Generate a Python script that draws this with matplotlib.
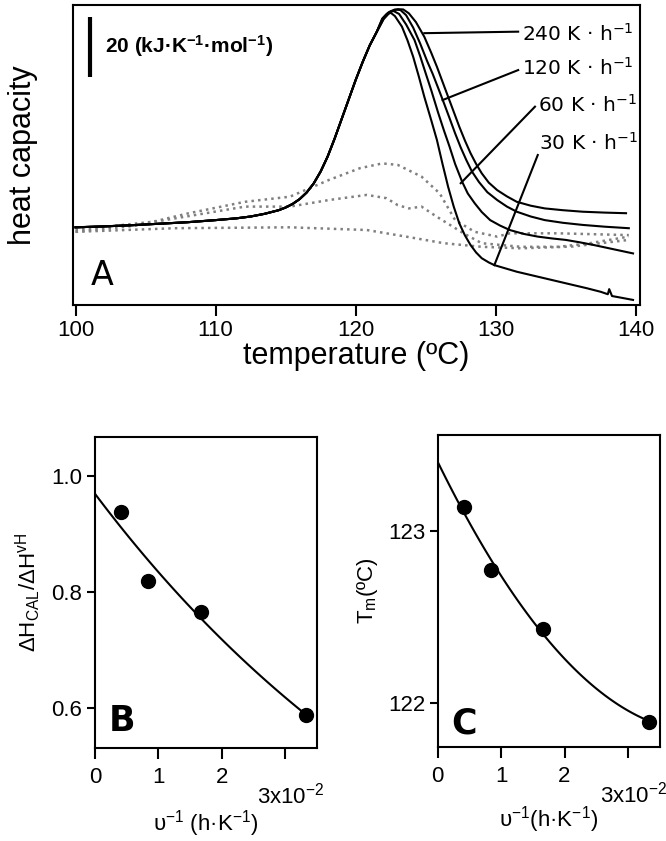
import numpy as np
import matplotlib
matplotlib.use('Agg')
import matplotlib.pyplot as plt

plt.rcParams['font.family'] = ['Liberation Sans', 'DejaVu Sans']
plt.rcParams['mathtext.fontset'] = 'custom'
plt.rcParams['mathtext.rm'] = 'Liberation Sans'
plt.rcParams['mathtext.it'] = 'Liberation Sans'
plt.rcParams['mathtext.bf'] = 'Liberation Sans:bold'

# ---------------------------
# Panel A data (temperature in C, heat capacity in kJ/K/mol, arbitrary offset)
# ---------------------------
rise_T = [100.0, 102.0, 104.0, 106.0, 108.0, 110.0, 111.5, 112.5, 113.5, 114.5, 115.0, 115.5,
          116.0, 116.5, 117.0, 117.5, 118.0, 118.5, 119.0, 119.5, 120.0, 120.5, 121.0, 121.5]
rise_cp = [25.9, 26.2, 26.6, 27.1, 27.6, 28.3, 28.9, 29.5, 30.4, 31.6, 32.5, 33.7,
           35.3, 37.5, 40.5, 44.5, 49.5, 55.5, 62.0, 68.5, 75.0, 81.0, 86.5, 91.0]

t240 = [122.0, 122.5, 123.0, 123.4, 123.8, 124.3, 124.9, 125.4, 125.8, 126.2, 126.6, 127.0, 127.4, 127.8,
        128.2, 128.6, 129.0, 129.5, 130.1, 130.8, 131.5, 132.5, 133.5, 134.8, 136.2, 137.8, 139.3]
cp240 = [95.3, 97.8, 98.6, 98.5, 97.2, 94.3, 89.4, 84.0, 79.4, 74.4, 69.4, 64.4, 59.4, 54.8,
         50.6, 47.0, 43.9, 40.8, 38.3, 36.2, 34.4, 33.1, 32.2, 31.6, 31.1, 30.8, 30.6]

t120 = [122.0, 122.4, 122.8, 123.2, 123.6, 124.1, 124.6, 125.1, 125.5, 125.9, 126.3, 126.7, 127.1, 127.5,
        127.9, 128.3, 128.8, 129.4, 130.1, 130.8, 131.5, 132.5, 133.5, 134.8, 136.2, 137.8, 139.5]
cp120 = [95.5, 97.7, 98.5, 98.3, 96.6, 92.5, 87.2, 81.3, 77.0, 72.2, 67.3, 62.3, 57.2, 52.5,
         48.3, 44.5, 41.0, 37.6, 35.0, 32.8, 31.1, 29.5, 28.3, 27.4, 26.7, 26.1, 25.6]

t60 = [121.9, 122.3, 122.7, 123.1, 123.6, 124.2, 124.6, 125.0, 125.4, 125.9, 126.3, 126.7, 127.1, 127.6, 128.0,
       128.5, 129.0, 129.6, 130.3, 131.0, 132.0, 133.0, 134.0, 135.0, 136.0, 137.0, 138.0, 139.0, 139.8]
cp60 = [95.5, 97.4, 98.0, 97.0, 93.5, 88.3, 83.0, 77.2, 71.5, 63.9, 58.2, 52.8, 47.0, 41.1, 37.2,
        33.9, 31.0, 28.3, 26.5, 25.0, 23.7, 22.8, 22.2, 21.7, 20.9, 20.0, 19.0, 18.0, 17.2]

t30 = [121.9, 122.2, 122.5, 122.8, 123.3, 123.7, 124.1, 124.5, 124.9, 125.4, 125.8, 126.2, 126.6, 127.0, 127.4,
       127.8, 128.2, 128.6, 129.0, 129.5, 129.9, 130.7, 131.5, 132.5, 133.5, 134.5, 135.5, 136.5, 137.5,
       138.0, 138.1, 138.3, 139.0, 139.8]
cp30 = [95.3, 96.9, 97.4, 96.3, 92.8, 88.2, 82.8, 76.3, 69.4, 61.5, 55.0, 47.0, 39.4, 32.8, 27.2,
        23.2, 20.0, 17.5, 15.6, 14.2, 13.3, 12.2, 11.1, 10.0, 8.9, 7.8, 6.7, 5.6, 4.4,
        3.6, 5.3, 3.0, 2.4, 1.7]

# dotted traces
d1_T = [100.0, 104.4, 108.0, 112.1, 115.3, 118.1, 120.3, 121.9, 123.0, 124.7, 126.0, 127.1, 128.5, 130.1, 131.0, 134.5, 139.5]
d1_cp = [24.4, 26.5, 30.5, 34.4, 36.1, 41.7, 45.6, 47.2, 46.7, 42.8, 37.2, 28.3, 24.4, 22.8, 23.9, 23.9, 23.3]
d2_T = [100.0, 106.0, 112.1, 115.3, 118.1, 120.8, 122.2, 123.0, 123.8, 124.7, 125.8, 127.7, 129.0, 131.8, 134.5, 136.7, 139.5]
d2_cp = [25.0, 28.0, 32.8, 32.8, 35.0, 36.7, 35.6, 33.3, 32.2, 32.8, 29.4, 23.9, 20.6, 19.4, 19.4, 20.6, 22.8]
d3_T = [100.0, 107.1, 115.3, 120.8, 123.6, 126.3, 129.0, 131.8, 135.5, 139.5]
d3_cp = [24.4, 25.6, 25.9, 25.0, 22.8, 20.6, 19.4, 18.9, 19.5, 21.7]

rate_labels = ['240 K · h$^{-1}$', '120 K · h$^{-1}$', '60 K · h$^{-1}$', '30 K · h$^{-1}$']

# ---------------------------
# Panels B and C data
# ---------------------------
rates = np.array([240, 120, 60, 30])
inv_rate = 1.0 / rates
h_ratio = np.array([0.938, 0.818, 0.766, 0.588])
tm = np.array([123.14, 122.77, 122.43, 121.89])

fig = plt.figure(figsize=(6.66, 8.41), dpi=100)

# ---------------------------
# A
# ---------------------------
axA = fig.add_axes([0.1092, 0.6373, 0.8518, 0.3568])
for T, cp in [(d1_T, d1_cp), (d2_T, d2_cp), (d3_T, d3_cp)]:
    axA.plot(T, cp, color='#808080', ls=':', lw=1.8)
for T, cp in [(t240, cp240), (t120, cp120), (t60, cp60), (t30, cp30)]:
    axA.plot(rise_T + T, rise_cp + cp, color='black', lw=1.5)

axA.set_xlim(99.8, 140.3)
axA.set_ylim(0, 100)
axA.set_yticks([])
axA.set_xticks([100, 110, 120, 130, 140])
axA.tick_params(axis='x', direction='out', length=8, width=1.5, labelsize=16, pad=3)
for s in axA.spines.values():
    s.set_linewidth(1.5)
axA.set_xlabel('temperature (ºC)', fontsize=22, labelpad=0)
axA.set_ylabel('heat capacity', fontsize=22, labelpad=25)

# leaders and rate labels
lead_start = [(131.6, 91.1), (131.6, 78.3), (132.8, 66.1), (133.0, 50.0)]
lead_end = [(124.9, 90.6), (126.2, 68.3), (127.5, 40.6), (129.9, 13.3)]
lab_pos = [(131.9, 90.5), (131.9, 78.9), (133.0, 66.7), (133.1, 53.9)]
for (x0, y0), (x1, y1), (tx, ty), lab in zip(lead_start, lead_end, lab_pos, rate_labels):
    axA.plot([x0, x1], [y0, y1], color='black', lw=1.5)
    axA.text(tx, ty, lab, fontsize=14.5, family='DejaVu Sans', va='center', ha='left',
             math_fontfamily='dejavusans')

# scale bar
axA.plot([101.05, 101.05], [76, 96], color='black', lw=3, solid_capstyle='butt')
axA.text(102.1, 86.2, r'20 (kJ·K$^{\mathbf{-1}}$·mol$^{\mathbf{-1}}$)', fontsize=15,
         fontweight='bold', va='center')
axA.text(101.1, 10, 'A', fontsize=24, family='DejaVu Sans', va='center', ha='left')

# ---------------------------
# B
# ---------------------------
axB = fig.add_axes([0.1426, 0.1106, 0.3333, 0.3698])
axB.plot(inv_rate, h_ratio, 'o', color='black', ms=10)
pB = np.polyfit(inv_rate, np.log(h_ratio), 1)
xf = np.linspace(0, inv_rate[-1], 100)
axB.plot(xf, np.exp(np.polyval(pB, xf)), color='black', lw=1.5)
axB.set_xlim(0, 0.035)
axB.set_ylim(0.531, 1.067)
axB.set_yticks([0.6, 0.8, 1.0])
axB.set_yticklabels(['0.6', '0.8', '1.0'])
axB.set_ylabel(r'$\Delta$H$_{CAL}$/$\Delta$H$^{vH}$', fontsize=16, labelpad=6)
axB.set_xlabel('υ$^{-1}$ (h·K$^{-1}$)', fontsize=16, labelpad=14)
axB.text(0.0022, 0.578, 'B', fontsize=25, fontweight='bold', family='DejaVu Sans', va='center')

# ---------------------------
# C
# ---------------------------
axC = fig.add_axes([0.6572, 0.1118, 0.3333, 0.3710])
axC.plot(inv_rate, tm, 'o', color='black', ms=10)
pC = np.polyfit(inv_rate, tm, 2)
axC.plot(xf, np.polyval(pC, xf), color='black', lw=1.5)
axC.set_xlim(0, 0.035)
axC.set_ylim(121.744, 123.556)
axC.set_yticks([122, 123])
axC.set_ylabel('T$_m$(ºC)', fontsize=16, labelpad=6)
axC.set_xlabel('υ$^{-1}$(h·K$^{-1}$)', fontsize=16, labelpad=12)
axC.text(0.0022, 121.88, 'C', fontsize=25, fontweight='bold', family='DejaVu Sans', va='center')

for ax in (axB, axC):
    ax.set_xticks([0, 0.01, 0.02, 0.03])
    ax.set_xticklabels(['0', '1', '2', ''])
    ax.tick_params(axis='x', direction='out', length=8, width=1.5, labelsize=16, pad=6)
    ax.tick_params(axis='y', direction='out', length=6, width=1.5, labelsize=16, pad=3)
    for s in ax.spines.values():
        s.set_linewidth(1.5)
    ax.annotate('3x10$^{-2}$', xy=(0.03, 0), xycoords=('data', 'axes fraction'),
                xytext=(4, -25), textcoords='offset points', ha='center', va='top', fontsize=16)

plt.savefig('out.png', dpi=100)
